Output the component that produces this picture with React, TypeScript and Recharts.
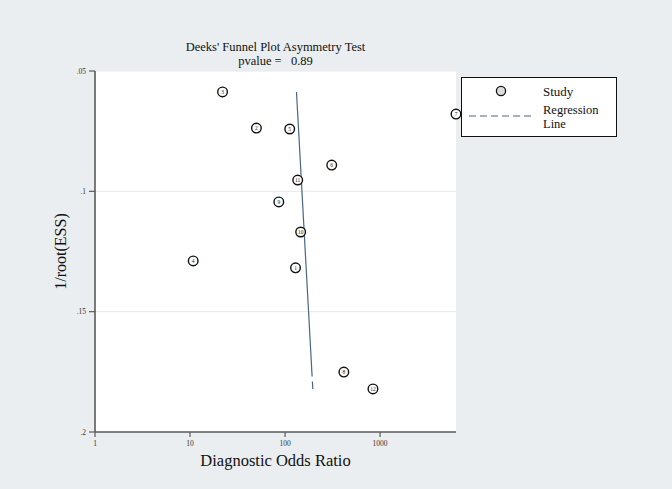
import React from 'react'
import {
  ScatterChart,
  Scatter,
  XAxis,
  YAxis,
  CartesianGrid,
  Legend,
} from 'recharts'

// study points
const studyIds = ['1', '2', '3', '4', '5', '6', '7', '8', '9', '10', '11', '12']
const studyDor = [129, 50, 22, 10.8, 112, 310, 6300, 416, 86, 146, 136, 842]
const studyInvRootEss = [
  0.1318, 0.0737, 0.0587, 0.1289, 0.0741, 0.0891, 0.0679, 0.1751, 0.1044, 0.1169,
  0.0953, 0.1821,
]

// fitted regression line (end points)
const regDor = [132, 196]
const regInvRootEss = [0.0587, 0.1821]

const xTicks = [1, 10, 100, 1000]
const yTicks = [0.05, 0.1, 0.15, 0.2]

const FONT = '"Liberation Serif", "Times New Roman", serif'
const BG = '#ebeef0'
const LINE_COLOR = '#4b6584'

const studies = studyIds.map((id, i) => ({ id, x: studyDor[i], y: studyInvRootEss[i] }))
const regression = regDor.map((x, i) => ({ x, y: regInvRootEss[i] }))

const StudyMarker = (props: any) => {
  const { cx, cy, payload } = props
  if (cx == null || cy == null) return null
  return (
    <g>
      <circle cx={cx} cy={cy} r={4.8} fill="#fff" stroke="#111" strokeWidth={1.4} />
      <text
        x={cx}
        y={cy}
        dy="0.35em"
        textAnchor="middle"
        fontSize={5.5}
        fontFamily={FONT}
        fill="#222"
      >
        {payload.id}
      </text>
    </g>
  )
}

const LegendBox = () => (
  <svg width={156} height={60} style={{ display: 'block' }}>
    <rect x={0.5} y={0.5} width={155} height={59} fill="#fff" stroke="#111" strokeWidth={1} />
    <circle cx={40} cy={14} r={4.6} fill="#dcdcdc" stroke="#111" strokeWidth={1.3} />
    <text x={82} y={14} dy="0.35em" fontSize={13} fontFamily={FONT} fill="#111">
      Study
    </text>
    <line
      x1={8}
      y1={39}
      x2={71}
      y2={39}
      stroke={LINE_COLOR}
      strokeWidth={1}
      strokeDasharray="7 4"
    />
    <text x={82} y={33} dy="0.35em" fontSize={12.5} fontFamily={FONT} fill="#111">
      Regression
    </text>
    <text x={82} y={46.5} dy="0.35em" fontSize={12.5} fontFamily={FONT} fill="#111">
      Line
    </text>
  </svg>
)

const fmtY = (v: number) => String(v).replace(/^0/, '')

export default function App() {
  return (
    <div
      style={{
        position: 'absolute',
        left: 0,
        top: 0,
        width: 672,
        height: 489,
        background: BG,
        fontFamily: FONT,
      }}
    >
      <div
        style={{
          position: 'absolute',
          left: 95,
          width: 361,
          top: 41,
          textAlign: 'center',
          fontSize: 12.5,
          lineHeight: '13.5px',
          color: '#111',
          whiteSpace: 'pre',
        }}
      >
        {"Deeks' Funnel Plot Asymmetry Test\npvalue =   0.89"}
      </div>
      <ScatterChart
        width={672}
        height={489}
        margin={{ top: 71, right: 216, bottom: 0, left: 0 }}
      >
        <CartesianGrid
          horizontal
          vertical={false}
          fill="#fff"
          stroke="#e6e8ea"
          strokeWidth={1}
        />
        <XAxis
          type="number"
          dataKey="x"
          scale="log"
          domain={[1, 6300]}
          ticks={xTicks}
          height={57}
          tickSize={5}
          tickMargin={4}
          axisLine={{ stroke: '#5a5a5a', strokeWidth: 1.6 }}
          tickLine={{ stroke: '#5a5a5a', strokeWidth: 1.2 }}
          tick={{ fontSize: 7.5, fill: '#333', fontFamily: FONT }}
          label={{
            content: ({ viewBox }: any) => (
              <text
                x={viewBox.x + viewBox.width / 2}
                y={viewBox.y + 34}
                textAnchor="middle"
                fontSize={16.5}
                fontFamily={FONT}
                fill="#111"
              >
                Diagnostic Odds Ratio
              </text>
            ),
          }}
        />
        <YAxis
          type="number"
          dataKey="y"
          reversed
          domain={[0.05, 0.2]}
          ticks={yTicks}
          width={95}
          tickSize={6}
          tickMargin={3}
          tickFormatter={fmtY}
          axisLine={{ stroke: '#5a5a5a', strokeWidth: 1.6 }}
          tickLine={{ stroke: '#5a5a5a', strokeWidth: 1.2 }}
          tick={{ fontSize: 7.5, fill: '#333', fontFamily: FONT }}
          label={{
            content: ({ viewBox }: any) => {
              const cx = viewBox.x + 60
              const cy = viewBox.y + viewBox.height / 2
              return (
                <text
                  x={cx}
                  y={cy}
                  dy="0.35em"
                  transform={`rotate(-90 ${cx} ${cy})`}
                  textAnchor="middle"
                  fontSize={16}
                  fontFamily={FONT}
                  fill="#111"
                >
                  1/root(ESS)
                </text>
              )
            },
          }}
        />
        <Scatter
          name="Regression Line"
          data={regression}
          line={{ stroke: LINE_COLOR, strokeWidth: 1.2, strokeDasharray: '285 5 8 100' }}
          shape={() => <g />}
          isAnimationActive={false}
        />
        <Scatter
          name="Study"
          data={studies}
          shape={StudyMarker}
          isAnimationActive={false}
        />
        <Legend
          layout="horizontal"
          verticalAlign="middle"
          align="center"
          content={() => <LegendBox />}
          wrapperStyle={{ position: 'absolute', left: 461, top: 77, width: 156, height: 60 }}
        />
      </ScatterChart>
    </div>
  )
}
